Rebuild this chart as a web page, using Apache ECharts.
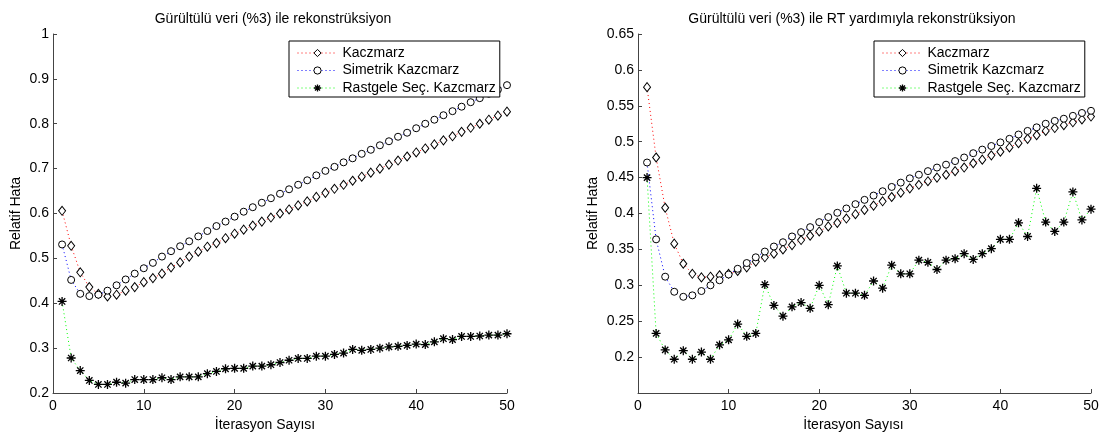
<!DOCTYPE html>
<html>
<head>
<meta charset="utf-8">
<script src="https://cdn.jsdelivr.net/npm/echarts@6/dist/echarts.min.js"></script>
<style>
  html, body { margin: 0; padding: 0; background: #fff; }
  #chart { width: 1109px; height: 434px; }
</style>
</head>
<body>
<div id="chart"></div>
<script>
/* iterasyon sayilari (x ekseni) */
var iterations = [1, 2, 3, 4, 5, 6, 7, 8, 9, 10, 11, 12, 13, 14, 15, 16, 17, 18, 19, 20,
    21, 22, 23, 24, 25, 26, 27, 28, 29, 30, 31, 32, 33, 34, 35, 36, 37, 38, 39, 40,
    41, 42, 43, 44, 45, 46, 47, 48, 49, 50];

/* sol grafik: gurultulu veri (%3) ile rekonstruksiyon */
var kaczmarzNoisy = [0.606, 0.528, 0.469, 0.436, 0.421, 0.415, 0.419, 0.428, 0.436, 0.447,
    0.456, 0.466, 0.480, 0.491, 0.504, 0.515, 0.526, 0.534, 0.545, 0.555,
    0.564, 0.573, 0.582, 0.591, 0.600, 0.609, 0.618, 0.627, 0.637, 0.646,
    0.655, 0.664, 0.673, 0.682, 0.691, 0.700, 0.709, 0.718, 0.727, 0.736,
    0.745, 0.754, 0.763, 0.772, 0.782, 0.791, 0.800, 0.809, 0.818, 0.827];
var simetrikNoisy = [0.531, 0.452, 0.421, 0.416, 0.419, 0.428, 0.440, 0.453, 0.466, 0.478,
    0.490, 0.504, 0.516, 0.527, 0.538, 0.549, 0.561, 0.572, 0.582, 0.593,
    0.604, 0.614, 0.624, 0.634, 0.644, 0.654, 0.664, 0.674, 0.685, 0.695,
    0.704, 0.714, 0.723, 0.733, 0.742, 0.752, 0.761, 0.771, 0.780, 0.790,
    0.800, 0.809, 0.819, 0.828, 0.838, 0.848, 0.857, 0.867, 0.876, 0.886];
var rastgeleNoisy = [0.404, 0.278, 0.250, 0.228, 0.219, 0.219, 0.224, 0.222, 0.230, 0.230,
    0.230, 0.234, 0.230, 0.236, 0.236, 0.236, 0.243, 0.248, 0.254, 0.255,
    0.255, 0.260, 0.260, 0.263, 0.268, 0.273, 0.277, 0.277, 0.282, 0.282,
    0.286, 0.289, 0.297, 0.295, 0.297, 0.300, 0.303, 0.304, 0.306, 0.309,
    0.308, 0.314, 0.321, 0.319, 0.326, 0.326, 0.327, 0.329, 0.329, 0.332];

/* sag grafik: RT yardimiyla rekonstruksiyon */
var kaczmarzRT = [0.576, 0.478, 0.408, 0.358, 0.330, 0.316, 0.311, 0.312, 0.314, 0.316,
    0.320, 0.325, 0.333, 0.339, 0.344, 0.350, 0.356, 0.363, 0.369, 0.375,
    0.382, 0.387, 0.393, 0.399, 0.405, 0.411, 0.417, 0.423, 0.429, 0.435,
    0.440, 0.445, 0.450, 0.454, 0.459, 0.464, 0.470, 0.475, 0.481, 0.486,
    0.492, 0.498, 0.504, 0.509, 0.515, 0.519, 0.523, 0.527, 0.531, 0.535];
var simetrikRT = [0.471, 0.364, 0.312, 0.291, 0.284, 0.286, 0.292, 0.300, 0.307, 0.315,
    0.323, 0.331, 0.339, 0.347, 0.354, 0.360, 0.368, 0.374, 0.381, 0.388,
    0.395, 0.401, 0.407, 0.413, 0.419, 0.425, 0.431, 0.437, 0.443, 0.449,
    0.454, 0.459, 0.464, 0.468, 0.473, 0.478, 0.484, 0.489, 0.494, 0.499,
    0.504, 0.510, 0.515, 0.520, 0.525, 0.529, 0.532, 0.536, 0.540, 0.543];
var rastgeleRT = [0.450, 0.233, 0.210, 0.197, 0.209, 0.197, 0.207, 0.197, 0.217, 0.224,
    0.246, 0.229, 0.233, 0.301, 0.272, 0.257, 0.270, 0.276, 0.268, 0.300,
    0.273, 0.327, 0.289, 0.289, 0.286, 0.306, 0.296, 0.328, 0.316, 0.316,
    0.335, 0.332, 0.322, 0.335, 0.337, 0.344, 0.336, 0.344, 0.351, 0.364,
    0.364, 0.387, 0.368, 0.435, 0.388, 0.375, 0.388, 0.430, 0.391, 0.406];

var legendNames = ['Kaczmarz', 'Simetrik Kazcmarz', 'Rastgele Seç. Kazcmarz'];
var titles = ['Gürültülü veri (%3) ile rekonstrüksiyon', 'Gürültülü veri (%3) ile RT yardımıyla rekonstrüksiyon'];

var FONT = '"Liberation Sans", Arial, sans-serif';
var STAR = 'path://M0,5L10,5M5,0L5,10M1.5,1.5L8.5,8.5M8.5,1.5L1.5,8.5';
var RT_PREFIX = 'RT: ';
var lineColors = ['#ff0000', '#0000ff', '#00ff00'];
var symbols = ['diamond', 'circle', STAR];

function pairs(values) {
    var out = [];
    for (var i = 0; i < iterations.length; i++) {
        out.push([iterations[i], values[i]]);
    }
    return out;
}

function markerStyle(k) {
    var isStar = symbols[k] === STAR;
    return {
        color: isStar ? '#000' : '#fff',
        borderColor: '#000',
        borderWidth: isStar ? 1.3 : 1
    };
}

function lineStyleOf(k) {
    return { color: lineColors[k], width: 1, type: [1, 3] };
}

function makeSeries(name, values, idx, k) {
    var sizes = [[7, 9], 7, 9];
    return {
        name: name,
        type: 'line',
        xAxisIndex: idx,
        yAxisIndex: idx,
        data: pairs(values),
        symbol: symbols[k],
        symbolSize: sizes[k],
        showAllSymbol: true,
        color: lineColors[k],
        lineStyle: lineStyleOf(k),
        itemStyle: markerStyle(k),
        emphasis: { disabled: true },
        animation: false
    };
}

function makeXAxis(idx) {
    return {
        type: 'value', gridIndex: idx, min: 0, max: 50, interval: 10,
        name: 'İterasyon Sayısı', nameLocation: 'middle', nameGap: 17,
        nameTextStyle: { fontFamily: FONT, fontSize: 14, color: '#000', padding: [0, idx === 0 ? 30 : 22, 0, 0] },
        axisLine: { show: true, lineStyle: { color: '#444', width: 1 } },
        axisTick: { show: true, inside: true, length: 4, lineStyle: { color: '#444' } },
        axisLabel: { fontFamily: FONT, fontSize: 14, color: '#000', margin: 6 },
        splitLine: { show: false }
    };
}

function makeYAxis(idx, min, max, interval) {
    return {
        type: 'value', gridIndex: idx, min: min, max: max, interval: interval,
        name: 'Relatif Hata', nameLocation: 'middle', nameGap: idx === 0 ? 30 : 38,
        nameTextStyle: { fontFamily: FONT, fontSize: 14, color: '#000' },
        axisLine: { show: true, lineStyle: { color: '#444', width: 1 } },
        axisTick: { show: true, inside: true, length: 4, lineStyle: { color: '#444' } },
        axisLabel: { fontFamily: FONT, fontSize: 14, color: '#000', margin: 4, showMinLabel: idx === 0 },
        splitLine: { show: false }
    };
}

function makeLegend(left, names) {
    var items = names.map(function (n, k) {
        return { name: n, itemStyle: markerStyle(k), lineStyle: lineStyleOf(k) };
    });
    return {
        data: items,
        formatter: function (name) { return name.replace(RT_PREFIX, ''); },
        orient: 'vertical',
        left: left,
        top: 41,
        itemWidth: 40,
        itemHeight: 9,
        itemGap: 3.5,
        padding: [5, 4, 2, 8],
        borderColor: '#000',
        borderWidth: 1,
        backgroundColor: '#fff',
        selectedMode: false,
        textStyle: { fontFamily: FONT, fontSize: 14, color: '#000', lineHeight: 14 }
    };
}

var rtNames = legendNames.map(function (n) { return RT_PREFIX + n; });

var chart = echarts.init(document.getElementById('chart'));

var option = {
    backgroundColor: '#fff',
    animation: false,
    grid: [
        { left: 53, right: 602, top: 34, bottom: 41, outerBoundsMode: 'none' },
        { left: 638, right: 18, top: 34, bottom: 41, outerBoundsMode: 'none' }
    ],
    xAxis: [makeXAxis(0), makeXAxis(1)],
    yAxis: [makeYAxis(0, 0.2, 1, 0.1), makeYAxis(1, 0.15, 0.65, 0.05)],
    legend: [makeLegend(289, legendNames), makeLegend(874, rtNames)],
    graphic: [
        { type: 'text', x: 273, y: 19, style: { text: titles[0], font: '14px ' + FONT, fill: '#000', textAlign: 'center', textVerticalAlign: 'middle' } },
        { type: 'text', x: 852, y: 19, style: { text: titles[1], font: '14px ' + FONT, fill: '#000', textAlign: 'center', textVerticalAlign: 'middle' } }
    ],
    series: [
        makeSeries(legendNames[0], kaczmarzNoisy, 0, 0),
        makeSeries(legendNames[1], simetrikNoisy, 0, 1),
        makeSeries(legendNames[2], rastgeleNoisy, 0, 2),
        makeSeries(rtNames[0], kaczmarzRT, 1, 0),
        makeSeries(rtNames[1], simetrikRT, 1, 1),
        makeSeries(rtNames[2], rastgeleRT, 1, 2)
    ]
};

chart.setOption(option);
</script>
</body>
</html>
